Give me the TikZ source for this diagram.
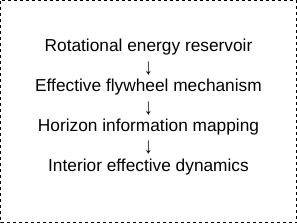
\documentclass[tikz,border=0pt]{standalone}
\usepackage{fontspec}
\setmainfont{Liberation Sans}
\begin{document}
\begin{tikzpicture}[x=1pt,y=-1pt,
  line/.style={font=\fontsize{17.3}{17.3}\selectfont, inner sep=0pt, anchor=base},
  arr/.style={font=\fontsize{17.3}{17.3}\selectfont, inner sep=0pt, anchor=center}]
\useasboundingbox (0,0) rectangle (297,223);
\draw[line width=1pt, dash pattern=on 3pt off 3pt] (0.5,0.5) rectangle (296.5,222.5);
\node[line] (a) at (148.5,51.5) {Rotational energy reservoir};
\node[arr] (r1) at (148.5,69) {\scalebox{1}[1.3]{↓}};
\node[line] (b) at (148.5,91.5) {Effective flywheel mechanism};
\node[arr] (r2) at (148.5,108.5) {\scalebox{1}[1.3]{↓}};
\node[line] (c) at (148.5,131.5) {Horizon information mapping};
\node[arr] (r3) at (148.5,148) {\scalebox{1}[1.3]{↓}};
\node[line] (d) at (148.5,171.5) {Interior effective dynamics};
\end{tikzpicture}
\end{document}
